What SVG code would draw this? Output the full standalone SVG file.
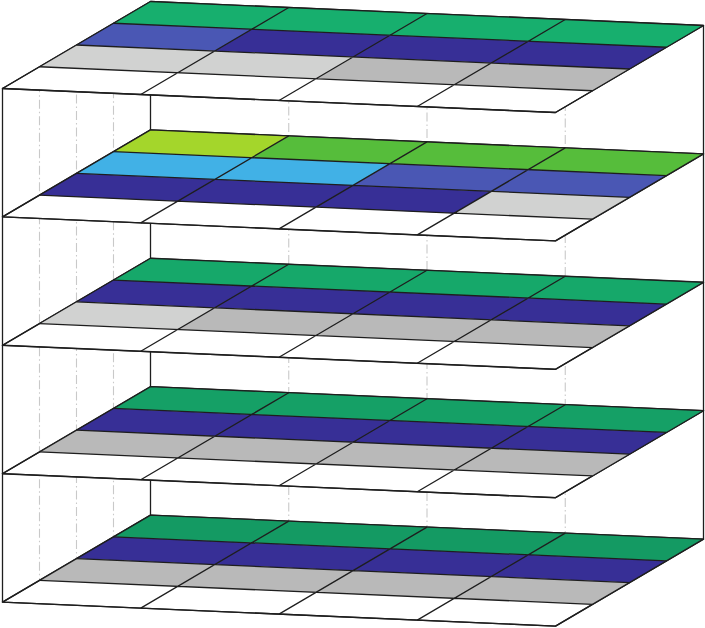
<svg xmlns="http://www.w3.org/2000/svg" xmlns:xlink="http://www.w3.org/1999/xlink" width="705" height="628" viewBox="0 0 705 628">
<style>
.edge{stroke:#1e1e1e;stroke-width:1.3;fill:none;stroke-linejoin:round}
.hid{stroke:#c9c9c9;stroke-width:1.1;fill:none;stroke-dasharray:9 3 1.5 3}
.plate{fill:#ffffff;stroke:#1e1e1e;stroke-width:1.4;stroke-linejoin:round}
.cell{stroke:none}
.gA{fill:#17af6e}.gB{fill:#16a86a}.gC{fill:#15a066}.gD{fill:#149a63}
.lg{fill:#56bd3b}.yg{fill:#a4d62b}
.db{fill:#372f96}.mb{fill:#4a57b4}.sb{fill:#41b1e6}
.lgr{fill:#d1d2d1}.gr{fill:#b9b9b9}
</style>
<defs>
<polygon id="plateShape" points="0,0 553,24 701,-63 148,-87"/>
<path id="grid" d="M37,-21.75 L590,2.25 M74,-43.5 L627,-19.5 M111,-65.25 L664,-41.25 M138.25,6 L286.25,-81 M276.5,12 L424.5,-75 M414.75,18 L562.75,-69"/>
</defs>
<rect width="705" height="628" fill="#ffffff"/>
<g id="connectors">
<line class="hid" x1="39.5" y1="66.75" x2="39.5" y2="580.35"/>
<line class="hid" x1="76.5" y1="45" x2="76.5" y2="558.6"/>
<line class="hid" x1="113.5" y1="23.25" x2="113.5" y2="536.85"/>
<line class="hid" x1="288.75" y1="7.5" x2="288.75" y2="521.1"/>
<line class="hid" x1="427" y1="13.5" x2="427" y2="527.1"/>
<line class="hid" x1="565.25" y1="19.5" x2="565.25" y2="533.1"/>
<line class="edge" x1="150.5" y1="1.5" x2="150.5" y2="515.1"/>
<line class="edge" x1="703.5" y1="25.5" x2="703.5" y2="539.1"/>
<line class="edge" x1="2.5" y1="88.5" x2="2.5" y2="602.1"/>
</g>
<g id="layer1" transform="translate(2.5,88.5)">
<use href="#plateShape" class="plate"/>
<polygon class="cell gA" points="111,-65.25 664,-41.25 701,-63 148,-87"/>
<polygon class="cell mb" points="74,-43.5 212.25,-37.5 249.25,-59.25 111,-65.25"/>
<polygon class="cell db" points="212.25,-37.5 627,-19.5 664,-41.25 249.25,-59.25"/>
<polygon class="cell lgr" points="37,-21.75 313.5,-9.75 350.5,-31.5 74,-43.5"/>
<polygon class="cell gr" points="313.5,-9.75 590,2.25 627,-19.5 350.5,-31.5"/>
<use href="#grid" class="edge"/>
<use href="#plateShape" class="edge"/>
</g>
<g id="layer2" transform="translate(2.5,216.9)">
<use href="#plateShape" class="plate"/>
<polygon class="cell yg" points="111,-65.25 249.25,-59.25 286.25,-81 148,-87"/>
<polygon class="cell lg" points="249.25,-59.25 664,-41.25 701,-63 286.25,-81"/>
<polygon class="cell sb" points="74,-43.5 350.5,-31.5 387.5,-53.25 111,-65.25"/>
<polygon class="cell mb" points="350.5,-31.5 627,-19.5 664,-41.25 387.5,-53.25"/>
<polygon class="cell db" points="37,-21.75 451.75,-3.75 488.75,-25.5 74,-43.5"/>
<polygon class="cell lgr" points="451.75,-3.75 590,2.25 627,-19.5 488.75,-25.5"/>
<use href="#grid" class="edge"/>
<use href="#plateShape" class="edge"/>
</g>
<g id="layer3" transform="translate(2.5,345.3)">
<use href="#plateShape" class="plate"/>
<polygon class="cell gB" points="111,-65.25 664,-41.25 701,-63 148,-87"/>
<polygon class="cell db" points="74,-43.5 627,-19.5 664,-41.25 111,-65.25"/>
<polygon class="cell lgr" points="37,-21.75 175.25,-15.75 212.25,-37.5 74,-43.5"/>
<polygon class="cell gr" points="175.25,-15.75 590,2.25 627,-19.5 212.25,-37.5"/>
<use href="#grid" class="edge"/>
<use href="#plateShape" class="edge"/>
</g>
<g id="layer4" transform="translate(2.5,473.7)">
<use href="#plateShape" class="plate"/>
<polygon class="cell gC" points="111,-65.25 664,-41.25 701,-63 148,-87"/>
<polygon class="cell db" points="74,-43.5 627,-19.5 664,-41.25 111,-65.25"/>
<polygon class="cell gr" points="37,-21.75 590,2.25 627,-19.5 74,-43.5"/>
<use href="#grid" class="edge"/>
<use href="#plateShape" class="edge"/>
</g>
<g id="layer5" transform="translate(2.5,602.1)">
<use href="#plateShape" class="plate"/>
<polygon class="cell gD" points="111,-65.25 664,-41.25 701,-63 148,-87"/>
<polygon class="cell db" points="74,-43.5 627,-19.5 664,-41.25 111,-65.25"/>
<polygon class="cell gr" points="37,-21.75 590,2.25 627,-19.5 74,-43.5"/>
<use href="#grid" class="edge"/>
<use href="#plateShape" class="edge"/>
</g>
</svg>
